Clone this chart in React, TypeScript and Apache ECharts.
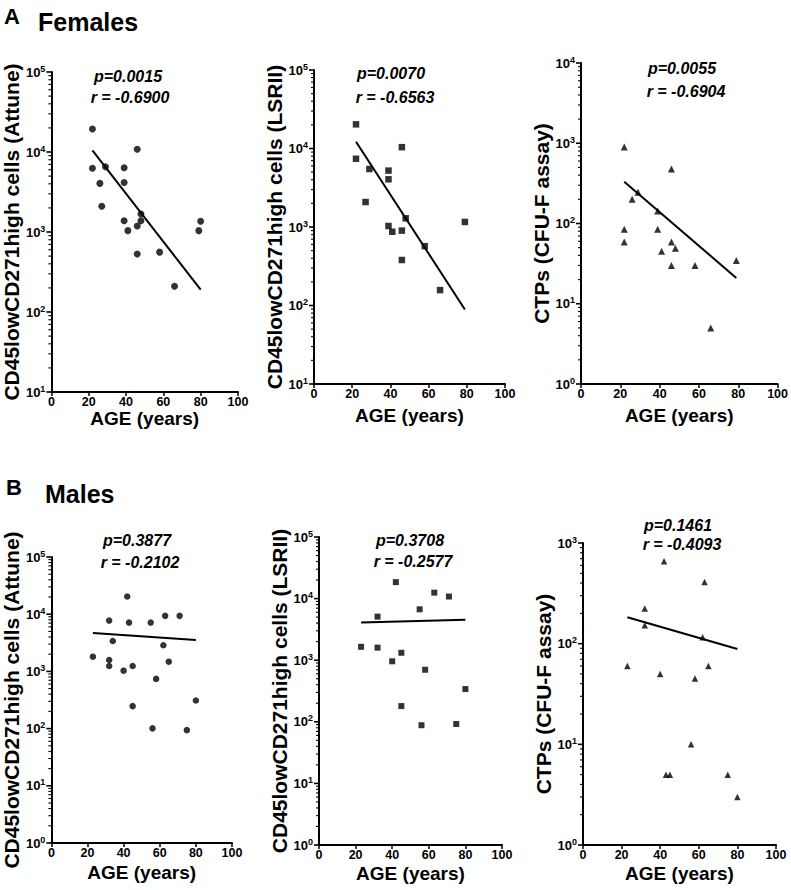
import React, { useEffect, useRef } from "react";
import * as echarts from "echarts";

const FONT = "'Liberation Sans', Arial, Helvetica, sans-serif";

// ---------- Females ----------
const femaleAttuneAge = [22, 22, 26, 27, 29, 39, 39, 39, 41, 46, 46, 46, 48, 48, 58, 66, 79, 80];
const femaleAttuneVal = [19400, 6250, 4050, 2100, 6550, 6360, 4150, 1380, 1040, 10800, 1190, 530, 1680, 1380, 560, 210, 1040, 1360];
const femaleAttuneFit = [[22, 10500], [80, 190]];

const femaleLsrAge = [22, 22, 27, 29, 39, 39, 39, 41, 46, 46, 46, 48, 58, 66, 79];
const femaleLsrVal = [20300, 7400, 2080, 5480, 5230, 4050, 1030, 870, 10400, 900, 380, 1290, 570, 157, 1160];
const femaleLsrFit = [[22, 12200], [79, 89]];

const femaleCtpAge = [22, 22, 22, 26, 29, 39, 39, 41, 46, 46, 46, 48, 58, 66, 79];
const femaleCtpVal = [900, 85, 59, 200, 245, 143, 85, 45, 477, 59, 30, 49, 30, 5, 34.5];
const femaleCtpFit = [[22, 331], [79, 21]];

// ---------- Males ----------
const maleAttuneAge = [23, 32, 32, 32, 34, 40, 42, 43, 45, 45, 55, 56, 58, 62, 63, 65, 71, 75, 80];
const maleAttuneVal = [1810, 7740, 1580, 1240, 3400, 1030, 20400, 7140, 1240, 247, 7140, 101, 740, 2860, 9350, 1480, 9350, 94, 310];
const maleAttuneFit = [[23, 4700], [80, 3550]];

const maleLsrAge = [23, 32, 32, 40, 42, 45, 45, 55, 56, 58, 63, 71, 75, 80];
const maleLsrVal = [1650, 5100, 1600, 960, 18500, 1320, 180, 6700, 88, 700, 12500, 10800, 92, 340];
const maleLsrFit = [[23, 4100], [80, 4550]];

const maleCtpAge = [23, 32, 32, 40, 42, 43, 45, 56, 58, 62, 63, 65, 75, 80];
const maleCtpVal = [60, 223, 152, 50, 658, 5, 5, 10, 45, 116, 410, 60, 5, 3];
const maleCtpFit = [[23, 183], [80, 88.5]];

const xTicks = { min: 0, max: 100, interval: 20 };

type Panel = {
  ages: number[];
  vals: number[];
  fit: number[][];
  symbol: string;
  size: number;
  yName: string;
  minExp: number;
  maxExp: number;
  p: string;
  r: string;
};

const panels: Panel[] = [
  { ages: femaleAttuneAge, vals: femaleAttuneVal, fit: femaleAttuneFit, symbol: "circle", size: 7, yName: "CD45lowCD271high cells (Attune)", minExp: 1, maxExp: 5, p: "p=0.0015", r: "r = -0.6900" },
  { ages: femaleLsrAge, vals: femaleLsrVal, fit: femaleLsrFit, symbol: "rect", size: 6.5, yName: "CD45lowCD271high cells (LSRII)", minExp: 1, maxExp: 5, p: "p=0.0070", r: "r = -0.6563" },
  { ages: femaleCtpAge, vals: femaleCtpVal, fit: femaleCtpFit, symbol: "triangle", size: 7, yName: "CTPs (CFU-F assay)", minExp: 0, maxExp: 4, p: "p=0.0055", r: "r = -0.6904" },
  { ages: maleAttuneAge, vals: maleAttuneVal, fit: maleAttuneFit, symbol: "circle", size: 6.5, yName: "CD45lowCD271high cells (Attune)", minExp: 0, maxExp: 5, p: "p=0.3877", r: "r = -0.2102" },
  { ages: maleLsrAge, vals: maleLsrVal, fit: maleLsrFit, symbol: "rect", size: 6, yName: "CD45lowCD271high cells (LSRII)", minExp: 0, maxExp: 5, p: "p=0.3708", r: "r = -0.2577" },
  { ages: maleCtpAge, vals: maleCtpVal, fit: maleCtpFit, symbol: "triangle", size: 6.5, yName: "CTPs (CFU-F assay)", minExp: 0, maxExp: 3, p: "p=0.1461", r: "r = -0.4093" },
];

// layout (pixels)
const layouts = [
  { left: 49, top: 72, width: 189, height: 320, nameGap: 25, xGap: 17, px: 128, py: 76, rx: 130, ry: 97 },
  { left: 314, top: 70, width: 191, height: 314, nameGap: 29, xGap: 22, px: 391, py: 73, rx: 395, ry: 97 },
  { left: 581, top: 63, width: 201, height: 321, nameGap: 27, xGap: 22, px: 682, py: 68, rx: 686, ry: 91 },
  { left: 48, top: 557, width: 184, height: 286, nameGap: 28, xGap: 20, px: 137, py: 540, rx: 140, ry: 562 },
  { left: 319, top: 537, width: 183, height: 308, nameGap: 29, xGap: 19, px: 410, py: 540, rx: 413, ry: 561 },
  { left: 583, top: 543, width: 193, height: 302, nameGap: 28, xGap: 19, px: 678, py: 525, rx: 682, ry: 544 },
];

function decades(minExp: number, maxExp: number) {
  const out: number[] = [];
  for (let e = minExp; e <= maxExp; e++) out.push(Math.pow(10, e));
  return out;
}
function minors(minExp: number, maxExp: number) {
  const out: number[] = [];
  for (let e = minExp; e < maxExp; e++) for (let k = 2; k <= 9; k++) out.push(k * Math.pow(10, e));
  return out;
}

const boldText = { fontFamily: FONT, fontWeight: "bold" as const, color: "#000" };

function tickSeries(i: number, values: number[], len: number, width: number) {
  return {
    type: "custom",
    xAxisIndex: i,
    yAxisIndex: i,
    clip: false,
    silent: true,
    data: values.map((v) => [0, v]),
    renderItem: (_p: any, api: any) => {
      const pt = api.coord([api.value(0), api.value(1)]);
      return {
        type: "line",
        shape: { x1: pt[0] - len, y1: pt[1], x2: pt[0], y2: pt[1] },
        style: { stroke: "#000", lineWidth: width },
      };
    },
    z: 5,
  };
}

function buildOption() {
  const grid: any[] = [];
  const xAxis: any[] = [];
  const yAxis: any[] = [];
  const series: any[] = [];
  const graphic: any[] = [];

  panels.forEach((pn, i) => {
    const L = layouts[i];
    grid.push({ left: L.left, top: L.top, width: L.width, height: L.height, containLabel: false });
    xAxis.push({
      gridIndex: i,
      type: "value",
      min: xTicks.min,
      max: xTicks.max,
      interval: xTicks.interval,
      name: "AGE (years)",
      nameLocation: "middle",
      nameGap: L.xGap,
      nameTextStyle: { ...boldText, fontSize: 19 },
      axisLine: { show: true, onZero: false, lineStyle: { color: "#000", width: 2 } },
      axisTick: { show: true, length: 4, lineStyle: { color: "#000", width: 1.5 } },
      axisLabel: { ...boldText, fontSize: 12.5, margin: 3 },
      splitLine: { show: false },
    });
    const dec = decades(pn.minExp, pn.maxExp);
    yAxis.push({
      gridIndex: i,
      type: "log",
      logBase: 10,
      position: "left",
      min: Math.pow(10, pn.minExp),
      max: Math.pow(10, pn.maxExp),
      name: pn.yName,
      nameLocation: "middle",
      nameRotate: 90,
      nameGap: L.nameGap,
      nameTextStyle: { ...boldText, fontSize: 21 },
      axisLine: { show: true, onZero: false, lineStyle: { color: "#000", width: 2 } },
      axisTick: { show: false },
      axisLabel: {
        show: true,
        customValues: dec,
        margin: 6,
        ...boldText,
        fontSize: 13,
        formatter: (v: number) => `{b|10}{s|${Math.round(Math.log10(v))}}`,
        rich: {
          b: { ...boldText, fontSize: 13 },
          s: { ...boldText, fontSize: 9, padding: [0, 0, 7, 0] },
        },
      },
      splitLine: { show: false },
    });
    series.push({
      type: "scatter",
      xAxisIndex: i,
      yAxisIndex: i,
      symbol: pn.symbol,
      symbolSize: pn.size,
      itemStyle: { color: "#000" },
      data: pn.ages.map((a, j) => [a, pn.vals[j]]),
      z: 3,
    });
    series.push({
      type: "line",
      xAxisIndex: i,
      yAxisIndex: i,
      symbol: "none",
      lineStyle: { color: "#000", width: 2 },
      data: pn.fit,
      z: 4,
    });
    series.push(tickSeries(i, dec, 5, 1.6));
    series.push(tickSeries(i, minors(pn.minExp, pn.maxExp), 3, 1.1));
    graphic.push({
      type: "text",
      x: L.px,
      y: L.py,
      style: { text: pn.p, font: `italic bold 16px ${FONT}`, fill: "#000", align: "center", verticalAlign: "middle" },
    });
    graphic.push({
      type: "text",
      x: L.rx,
      y: L.ry,
      style: { text: pn.r, font: `italic bold 16px ${FONT}`, fill: "#000", align: "center", verticalAlign: "middle" },
    });
  });

  graphic.push(
    { type: "text", x: 4, y: 16, style: { text: "A", font: `bold 22px ${FONT}`, fill: "#000", verticalAlign: "middle" } },
    { type: "text", x: 38, y: 22, style: { text: "Females", font: `bold 25px ${FONT}`, fill: "#000", verticalAlign: "middle" } },
    { type: "text", x: 6, y: 487, style: { text: "B", font: `bold 22px ${FONT}`, fill: "#000", verticalAlign: "middle" } },
    { type: "text", x: 45, y: 494, style: { text: "Males", font: `bold 25px ${FONT}`, fill: "#000", verticalAlign: "middle" } }
  );

  return {
    animation: false,
    backgroundColor: "#fff",
    grid,
    xAxis,
    yAxis,
    series,
    graphic,
  };
}

export default function App() {
  const ref = useRef<HTMLDivElement>(null);
  useEffect(() => {
    if (!ref.current) return;
    const chart = echarts.init(ref.current, null, { renderer: "svg" });
    chart.setOption(buildOption() as any);
    return () => chart.dispose();
  }, []);
  return (
    <div
      ref={ref}
      style={{ position: "absolute", left: 0, top: 0, width: 791, height: 890, background: "#fff" }}
    />
  );
}
